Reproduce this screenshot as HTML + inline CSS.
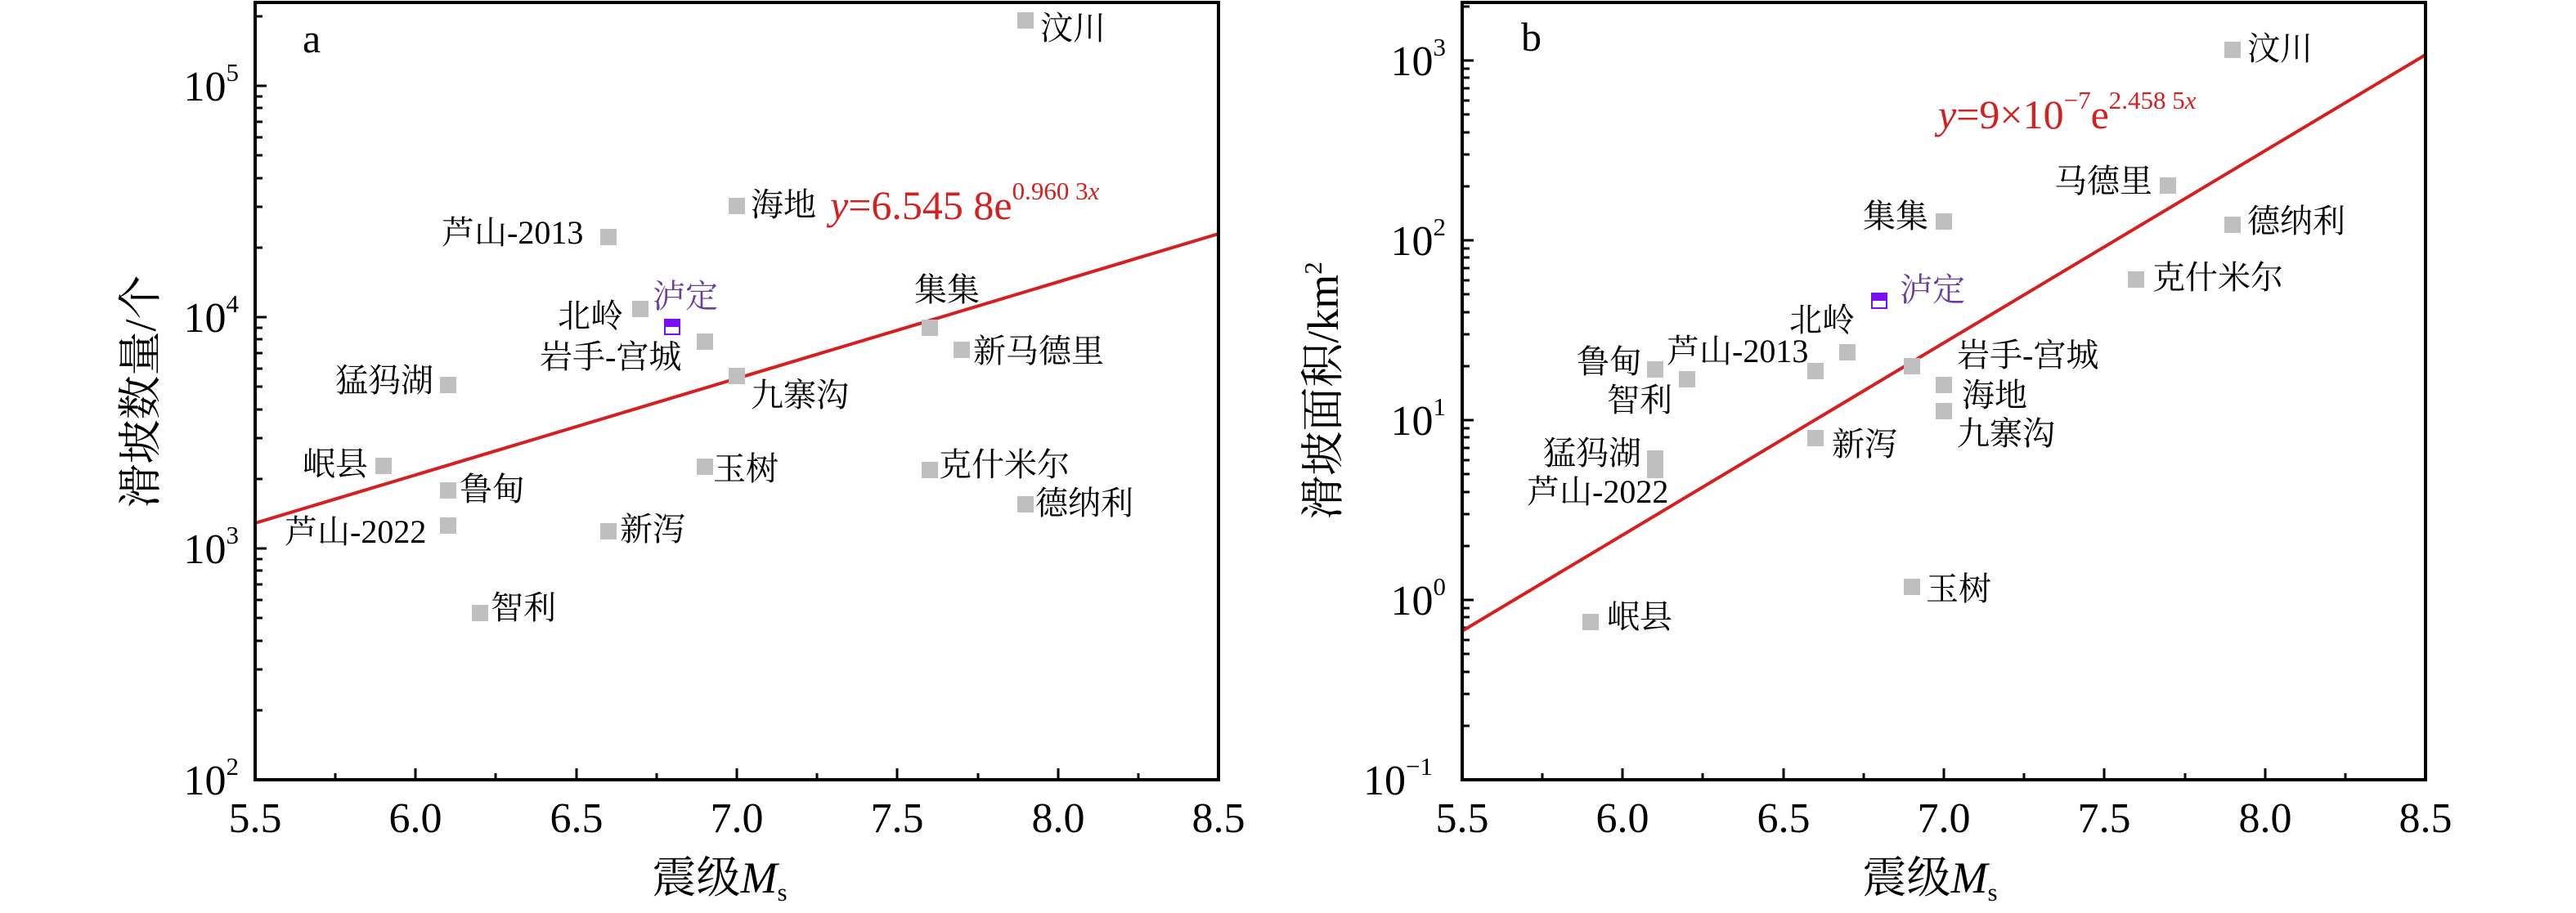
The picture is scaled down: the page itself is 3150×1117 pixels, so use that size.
<!DOCTYPE html>
<html><head><meta charset="utf-8"><style>
html,body{margin:0;padding:0;background:#fff;}
svg{display:block;font-family:"Liberation Serif","Noto Serif CJK SC","Times New Roman",serif;}
svg text{font-family:"Liberation Serif","Noto Serif CJK SC","Times New Roman",serif;fill:#000;}
.lb{font-size:40px;}
.tk{font-size:52px;}
.sp{font-size:31px;}
svg text.eq{fill:#d42020;font-size:50px;}
</style></head><body>
<svg width="3150" height="1117" viewBox="0 0 3150 1117" xmlns="http://www.w3.org/2000/svg" font-family="Liberation Serif, Noto Serif CJK SC, serif">
<defs>
<path id="ma" d="M0,-85h9M0,-135h9M0,-170h9M0,-198h9M0,-220h9M0,-239h9M0,-256h9M0,-270h9" stroke="#000" stroke-width="3"/>
<path id="mb" d="M0,-66h9M0,-105h9M0,-132h9M0,-154h9M0,-171h9M0,-186h9M0,-199h9M0,-210h9" stroke="#000" stroke-width="3"/>
<clipPath id="ca"><rect x="312" y="3" width="1178" height="951"/></clipPath>
<clipPath id="cb"><rect x="1788" y="3" width="1178" height="951"/></clipPath>
</defs>

<!-- ===== Panel a ===== -->
<g clip-path="url(#ca)">
<use href="#ma" x="312" y="954"/><use href="#ma" x="312" y="671"/><use href="#ma" x="312" y="388"/><use href="#ma" x="312" y="105"/>
<line x1="312" y1="640" x2="1490" y2="286" stroke="#d42020" stroke-width="4"/>
</g>
<path d="M312,954h14M312,671h14M312,388h14M312,105h14" stroke="#000" stroke-width="3"/>
<path d="M410,954v-8M606,954v-8M803,954v-8M999,954v-8M1196,954v-8M1392,954v-8M508,954v-14M705,954v-14M901,954v-14M1097,954v-14M1294,954v-14" stroke="#000" stroke-width="3"/>
<rect x="312" y="3" width="1178" height="951" fill="none" stroke="#000" stroke-width="4"/>

<g class="tk" text-anchor="middle">
<text x="312" y="1018">5.5</text><text x="508" y="1018">6.0</text><text x="705" y="1018">6.5</text><text x="901" y="1018">7.0</text><text x="1097" y="1018">7.5</text><text x="1294" y="1018">8.0</text><text x="1490" y="1018">8.5</text>
</g>
<g class="tk" text-anchor="end">
<text x="292" y="972">10<tspan class="sp" dy="-24">2</tspan></text>
<text x="292" y="689">10<tspan class="sp" dy="-24">3</tspan></text>
<text x="292" y="406">10<tspan class="sp" dy="-24">4</tspan></text>
<text x="292" y="123">10<tspan class="sp" dy="-24">5</tspan></text>
</g>
<text x="370" y="64" style="font-size:50px">a</text>
<text transform="translate(190,479) rotate(-90)" text-anchor="middle" style="font-size:54px">滑坡数量/个</text>
<text x="880" y="1092" text-anchor="middle" style="font-size:54px">震级<tspan font-style="italic">M</tspan><tspan class="sp" dy="10">s</tspan></text>

<g fill="#bfbfbf">
<rect x="1244" y="15" width="20" height="20"/>
<rect x="891" y="242" width="20" height="20"/>
<rect x="734" y="280" width="20" height="20"/>
<rect x="773" y="368" width="20" height="20"/>
<rect x="852" y="408" width="20" height="20"/>
<rect x="1127" y="391" width="20" height="20"/>
<rect x="1166" y="418" width="20" height="20"/>
<rect x="538" y="461" width="20" height="20"/>
<rect x="891" y="450" width="20" height="20"/>
<rect x="459" y="560" width="20" height="20"/>
<rect x="852" y="561" width="20" height="20"/>
<rect x="1127" y="565" width="20" height="20"/>
<rect x="538" y="590" width="20" height="20"/>
<rect x="1244" y="607" width="20" height="20"/>
<rect x="538" y="633" width="20" height="20"/>
<rect x="734" y="640" width="20" height="20"/>
<rect x="577" y="740" width="20" height="20"/>
</g>
<rect x="813" y="391" width="18" height="18" fill="#fff" stroke="#7a10f0" stroke-width="2"/>
<rect x="813" y="391" width="18" height="9" fill="#7a10f0"/>

<g class="lb">
<text x="1272" y="48">汶川</text>
<text x="918" y="264">海地</text>
<text x="540" y="298">芦山-2013</text>
<text x="798" y="376" style="fill:#6a3d9a">泸定</text>
<text x="682" y="400">北岭</text>
<text x="660" y="450">岩手-宫城</text>
<text x="1118" y="368">集集</text>
<text x="1190" y="443">新马德里</text>
<text x="410" y="479">猛犸湖</text>
<text x="918" y="497">九寨沟</text>
<text x="370" y="581">岷县</text>
<text x="872" y="587">玉树</text>
<text x="1148" y="582">克什米尔</text>
<text x="562" y="612">鲁甸</text>
<text x="1266" y="629">德纳利</text>
<text x="348" y="664">芦山-2022</text>
<text x="758" y="661">新泻</text>
<text x="600" y="757">智利</text>
</g>
<text class="eq" x="1015" y="268"><tspan font-style="italic">y</tspan>=6.545 8e<tspan class="sp" dy="-24">0.960 3<tspan font-style="italic">x</tspan></tspan></text>

<!-- ===== Panel b ===== -->
<g clip-path="url(#cb)">
<use href="#mb" x="1788" y="954"/><use href="#mb" x="1788" y="734"/><use href="#mb" x="1788" y="514"/><use href="#mb" x="1788" y="294"/><use href="#mb" x="1788" y="74"/>
<line x1="1788" y1="772" x2="2966" y2="67" stroke="#d42020" stroke-width="4"/>
</g>
<path d="M1788,954h14M1788,734h14M1788,514h14M1788,294h14M1788,74h14" stroke="#000" stroke-width="3"/>
<path d="M1886,954v-8M2082,954v-8M2279,954v-8M2475,954v-8M2672,954v-8M2868,954v-8M1984,954v-14M2181,954v-14M2377,954v-14M2573,954v-14M2770,954v-14" stroke="#000" stroke-width="3"/>
<rect x="1788" y="3" width="1178" height="951" fill="none" stroke="#000" stroke-width="4"/>

<g class="tk" text-anchor="middle">
<text x="1788" y="1018">5.5</text><text x="1984" y="1018">6.0</text><text x="2181" y="1018">6.5</text><text x="2377" y="1018">7.0</text><text x="2573" y="1018">7.5</text><text x="2770" y="1018">8.0</text><text x="2966" y="1018">8.5</text>
</g>
<g class="tk" text-anchor="end">
<text x="1752" y="972">10<tspan class="sp" dy="-24">−1</tspan></text>
<text x="1768" y="752">10<tspan class="sp" dy="-24">0</tspan></text>
<text x="1768" y="532">10<tspan class="sp" dy="-24">1</tspan></text>
<text x="1768" y="312">10<tspan class="sp" dy="-24">2</tspan></text>
<text x="1768" y="92">10<tspan class="sp" dy="-24">3</tspan></text>
</g>
<text x="1860" y="62" style="font-size:50px">b</text>
<text transform="translate(1636,478) rotate(-90)" text-anchor="middle" style="font-size:54px">滑坡面积/km<tspan class="sp" dy="-20">2</tspan></text>
<text x="2360" y="1092" text-anchor="middle" style="font-size:54px">震级<tspan font-style="italic">M</tspan><tspan class="sp" dy="10">s</tspan></text>

<g fill="#bfbfbf">
<rect x="2720" y="51" width="20" height="20"/>
<rect x="2641" y="217" width="20" height="20"/>
<rect x="2367" y="261" width="20" height="20"/>
<rect x="2720" y="265" width="20" height="20"/>
<rect x="2602" y="332" width="20" height="20"/>
<rect x="2249" y="421" width="20" height="20"/>
<rect x="2328" y="438" width="20" height="20"/>
<rect x="2014" y="442" width="20" height="20"/>
<rect x="2210" y="444" width="20" height="20"/>
<rect x="2053" y="454" width="20" height="20"/>
<rect x="2367" y="461" width="20" height="20"/>
<rect x="2367" y="493" width="20" height="20"/>
<rect x="2210" y="526" width="20" height="20"/>
<rect x="2014" y="551" width="20" height="20"/>
<rect x="2014" y="565" width="20" height="20"/>
<rect x="2328" y="708" width="20" height="20"/>
<rect x="1935" y="751" width="20" height="20"/>
</g>
<rect x="2289" y="359" width="18" height="18" fill="#fff" stroke="#7a10f0" stroke-width="2"/>
<rect x="2289" y="359" width="18" height="9" fill="#7a10f0"/>

<g class="lb">
<text x="2748" y="73">汶川</text>
<text x="2512" y="235">马德里</text>
<text x="2278" y="278">集集</text>
<text x="2748" y="284">德纳利</text>
<text x="2632" y="353">克什米尔</text>
<text x="2323" y="368" style="fill:#6a3d9a">泸定</text>
<text x="2188" y="405">北岭</text>
<text x="2038" y="443">芦山-2013</text>
<text x="1928" y="456">鲁甸</text>
<text x="2393" y="448">岩手-宫城</text>
<text x="1965" y="503">智利</text>
<text x="2399" y="497">海地</text>
<text x="2393" y="544">九寨沟</text>
<text x="2240" y="557">新泻</text>
<text x="1887" y="568">猛犸湖</text>
<text x="1867" y="615">芦山-2022</text>
<text x="2355" y="734">玉树</text>
<text x="1965" y="768">岷县</text>
</g>
<text class="eq" x="2370" y="157"><tspan font-style="italic">y</tspan>=9×10<tspan class="sp" dy="-24">−7</tspan><tspan dy="24">e</tspan><tspan class="sp" dy="-24">2.458 5<tspan font-style="italic">x</tspan></tspan></text>
</svg>
</body></html>
